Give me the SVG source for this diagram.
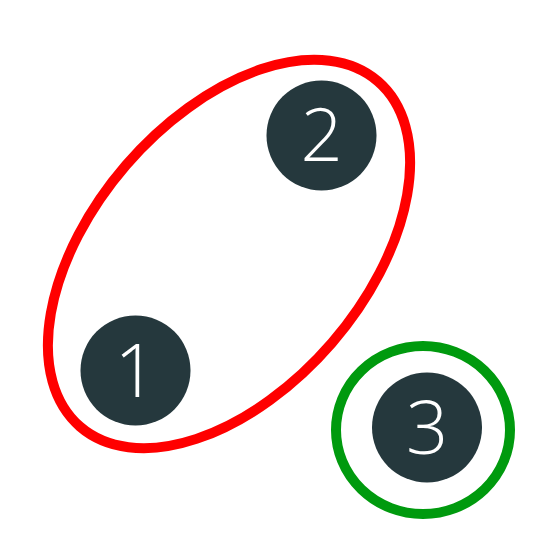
<svg xmlns="http://www.w3.org/2000/svg" width="560" height="560" viewBox="0 0 560 560">
<style>
.node{fill:#25383d}
.lbl{fill:#ffffff;font-family:"Open Sans","Noto Sans","Liberation Sans",sans-serif;font-weight:300;font-size:74px;text-anchor:middle}
.grp{fill:none;stroke-width:10}
</style>
<rect width="560" height="560" fill="#ffffff"/>
<g id="groups">
<ellipse id="group-red" class="grp" cx="229" cy="254" rx="228" ry="136" transform="rotate(-49.2 229 254)" stroke="#ff0000"/>
<ellipse id="group-green" class="grp" cx="423" cy="430" rx="87" ry="84" stroke="#009a0e"/>
</g>
<g id="node1"><circle class="node" cx="135.5" cy="370.5" r="55"/><text class="lbl" x="135.5" y="396.5">1</text></g>
<g id="node2"><circle class="node" cx="321.5" cy="135.5" r="55"/><text class="lbl" x="321.5" y="160.5">2</text></g>
<g id="node3"><circle class="node" cx="427" cy="427.5" r="55"/><text class="lbl" x="427" y="454">3</text></g>
<g id="connectors"></g>
</svg>
